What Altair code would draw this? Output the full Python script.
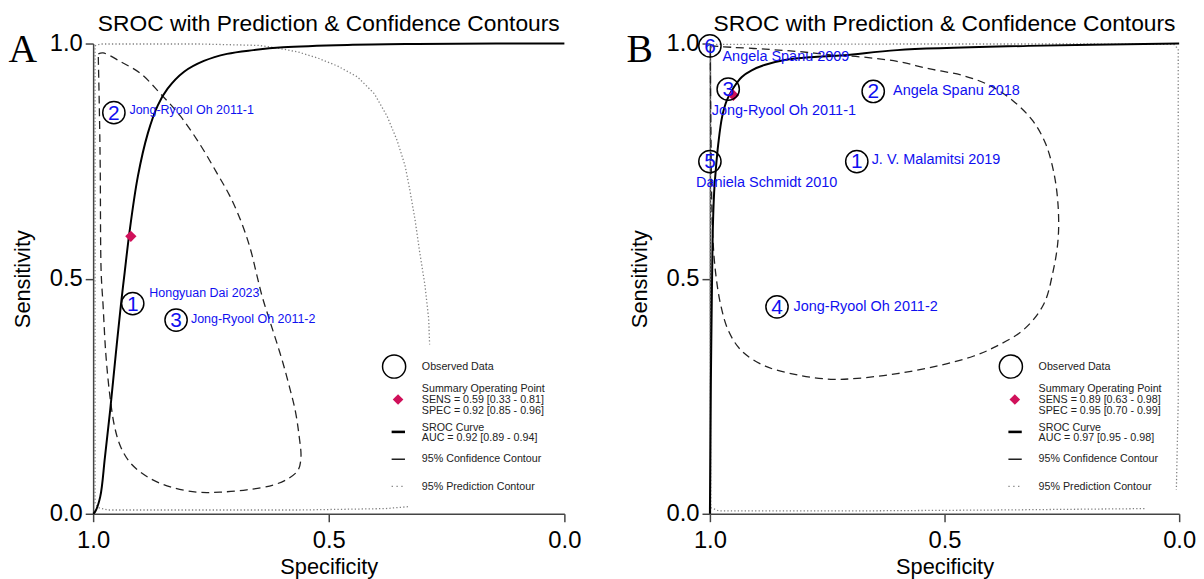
import altair as alt
import pandas as pd

FONT = "Liberation Sans"
TITLE = "SROC with Prediction & Confidence Contours"

# ---------------- Panel A data ----------------
a_ids = [1, 2, 3]
a_names = ["Hongyuan Dai 2023", "Jong-Ryool Oh 2011-1", "Jong-Ryool Oh 2011-2"]
a_spec = [0.916, 0.956, 0.824]
a_sens = [0.447, 0.853, 0.412]
a_sum_spec = [0.92]
a_sum_sens = [0.59]
a_sroc_spec = [1.0, 0.996, 0.985, 0.975, 0.964, 0.952, 0.941, 0.933, 0.923, 0.905, 0.884,
               0.863, 0.842, 0.807, 0.765, 0.716, 0.660, 0.597, 0.460, 0.313, 0.145, 0.0]
a_sroc_sens = [0.0, 0.004, 0.036, 0.120, 0.219, 0.339, 0.445, 0.514, 0.598, 0.718, 0.809,
               0.868, 0.904, 0.940, 0.963, 0.978, 0.986, 0.992, 0.997, 0.999, 1.0, 1.0]
a_conf_spec = [0.989, 0.979, 0.941, 0.899, 0.857, 0.815, 0.773, 0.737, 0.710, 0.685, 0.666,
               0.653, 0.641, 0.626, 0.611, 0.597, 0.584, 0.571, 0.563, 0.559, 0.565, 0.584,
               0.618, 0.674, 0.731, 0.779, 0.836, 0.884, 0.920, 0.941, 0.954, 0.964, 0.973,
               0.979, 0.983, 0.985, 0.987, 0.989, 0.989]
a_conf_sens = [0.978, 0.980, 0.961, 0.936, 0.893, 0.846, 0.785, 0.724, 0.676, 0.619, 0.562,
               0.509, 0.461, 0.413, 0.366, 0.320, 0.272, 0.219, 0.166, 0.120, 0.093, 0.076,
               0.061, 0.051, 0.046, 0.046, 0.057, 0.078, 0.107, 0.141, 0.183, 0.247, 0.339,
               0.445, 0.514, 0.740, 0.872, 0.971, 0.978]
a_pred_spec = [0.332, 0.380, 0.565, 0.775, 0.968, 0.989, 0.996, 0.996, 0.996, 0.996, 0.985,
               0.775, 0.649, 0.607, 0.565, 0.523, 0.481, 0.439, 0.403, 0.376, 0.355, 0.338,
               0.328, 0.317, 0.307, 0.296, 0.288, 0.286]
a_pred_sens = [0.015, 0.011, 0.008, 0.008, 0.008, 0.013, 0.023, 0.451, 0.872, 0.995, 0.999,
               0.999, 0.996, 0.990, 0.982, 0.969, 0.952, 0.929, 0.893, 0.845, 0.794, 0.740,
               0.689, 0.626, 0.556, 0.487, 0.415, 0.360]
a_legend = ["Observed Data", "Summary Operating Point", "SENS = 0.59 [0.33 - 0.81]",
            "SPEC = 0.92 [0.85 - 0.96]", "SROC Curve", "AUC = 0.92 [0.89 - 0.94]",
            "95% Confidence Contour", "95% Prediction Contour"]

# ---------------- Panel B data ----------------
b_ids = [1, 2, 3, 4, 5, 6]
b_names = ["J. V. Malamitsi 2019", "Angela Spanu 2018", "Jong-Ryool Oh 2011-1",
           "Jong-Ryool Oh 2011-2", "Daniela Schmidt 2010", "Angela Spanu 2009"]
b_spec = [0.687, 0.652, 0.961, 0.857, 1.0, 1.0]
b_sens = [0.749, 0.898, 0.903, 0.440, 0.749, 0.995]
b_sum_spec = [0.95]
b_sum_sens = [0.89]
b_sroc_spec = [1.0, 0.999, 0.998, 0.996, 0.994, 0.991, 0.988, 0.982, 0.974, 0.964, 0.949,
               0.932, 0.911, 0.882, 0.840, 0.784, 0.714, 0.601, 0.321, 0.0]
b_sroc_sens = [0.0, 0.135, 0.276, 0.451, 0.598, 0.683, 0.725, 0.788, 0.844, 0.879, 0.907,
               0.929, 0.943, 0.955, 0.965, 0.971, 0.975, 0.986, 0.995, 1.0]
b_conf_spec = [0.999, 0.953, 0.882, 0.812, 0.742, 0.672, 0.601, 0.531, 0.461, 0.404, 0.355,
               0.313, 0.285, 0.267, 0.258, 0.258, 0.269, 0.289, 0.331, 0.390, 0.439, 0.517,
               0.601, 0.686, 0.742, 0.812, 0.882, 0.932, 0.960, 0.977, 0.988, 0.994, 0.996,
               0.998, 0.999, 0.999]
b_conf_sens = [0.995, 0.992, 0.988, 0.983, 0.976, 0.971, 0.962, 0.946, 0.932, 0.911, 0.879,
               0.837, 0.788, 0.725, 0.655, 0.584, 0.514, 0.445, 0.392, 0.356, 0.335, 0.314,
               0.298, 0.288, 0.286, 0.295, 0.314, 0.346, 0.388, 0.444, 0.514, 0.591, 0.662,
               0.830, 0.957, 0.995]
b_pred_spec = [0.074, 0.390, 0.707, 0.981, 0.998, 0.999, 0.999, 0.999, 0.992, 0.601, 0.179,
               0.011, 0.002, 0.002, 0.002, 0.006]
b_pred_sens = [0.011, 0.008, 0.006, 0.006, 0.013, 0.240, 0.662, 0.988, 0.998, 0.999, 0.999,
               0.998, 0.988, 0.662, 0.240, 0.051]
b_legend = ["Observed Data", "Summary Operating Point", "SENS = 0.89 [0.63 - 0.98]",
            "SPEC = 0.95 [0.70 - 0.99]", "SROC Curve", "AUC = 0.97 [0.95 - 0.98]",
            "95% Confidence Contour", "95% Prediction Contour"]

# ---------------- layout (pixels) ----------------
H = 475
A_W, B_W = 476, 474
a_lab_dx = [16.7, 15.7, 15.0]
a_lab_dy = [-10.7, -2.6, -0.6]
b_lab_dx = [15.0, 20.0, -16.6, 16.7, -14.0, 12.7]
b_lab_dy = [-2.0, 0.0, 22.3, 0.0, 21.7, 11.6]
leg_text_x = 332.0
leg_text_y = [326.6, 348.9, 359.9, 370.9, 387.9, 398.9, 419.6, 447.6]

BLUE = "#1010F0"
RED = "#D0105A"


def panel(letter, w, ids, names, spec, sens, ldx, ldy, lab_size, sum_spec, sum_sens,
          sroc_sp, sroc_se, conf_sp, conf_se, pred_sp, pred_se, legend):
    def sx(px):
        return 1 - px / w

    def sy(py):
        return 1 - py / H

    xscale = alt.Scale(domain=[0, 1], reverse=True, nice=False, zero=False)
    yscale = alt.Scale(domain=[0, 1], nice=False, zero=False)
    xaxis = alt.Axis(values=[0, 0.5, 1], format=".1f", title="Specificity", grid=False,
                     labelFlush=False)
    yaxis = alt.Axis(values=[0, 0.5, 1], format=".1f", title="Sensitivity", grid=False,
                     labelFlush=False)
    X = alt.X("spec:Q", scale=xscale, axis=xaxis)
    Y = alt.Y("sens:Q", scale=yscale, axis=yaxis)

    def line_df(s, e):
        return pd.DataFrame({"spec": s, "sens": e, "i": list(range(len(s)))})

    pred = alt.Chart(line_df(pred_sp, pred_se)).mark_line(
        color="#808080", strokeDash=[1.3, 2.2], strokeWidth=1.3
    ).encode(x=X, y=Y, order="i:Q")
    conf = alt.Chart(line_df(conf_sp, conf_se)).mark_line(
        color="#222222", strokeDash=[8, 5], strokeWidth=1.3, interpolate="catmull-rom"
    ).encode(x=X, y=Y, order="i:Q")
    sroc = alt.Chart(line_df(sroc_sp, sroc_se)).mark_line(
        color="black", strokeWidth=2, interpolate="catmull-rom"
    ).encode(x=X, y=Y, order="i:Q")

    studies = pd.DataFrame({"id": [str(i) for i in ids], "name": names,
                            "spec": spec, "sens": sens})
    labels = pd.DataFrame({"name": names,
                           "spec": [s - dx / w for s, dx in zip(spec, ldx)],
                           "sens": [e - dy / H for e, dy in zip(sens, ldy)]})
    circles = alt.Chart(studies).mark_point(
        shape="circle", filled=False, color="black", size=506, strokeWidth=1.5, opacity=1
    ).encode(x=X, y=Y)
    nums = alt.Chart(studies).mark_text(
        font=FONT, fontSize=21, color=BLUE, align="center", baseline="middle", dy=1
    ).encode(x=X, y=Y, text="id:N")
    labs = alt.Chart(labels).mark_text(
        font=FONT, fontSize=lab_size, color=BLUE, align="left", baseline="middle"
    ).encode(x=X, y=Y, text="name:N")
    summ = alt.Chart(pd.DataFrame({"spec": sum_spec, "sens": sum_sens})).mark_point(
        shape="diamond", filled=True, color=RED, size=130, opacity=1
    ).encode(x=X, y=Y)

    # legend
    leg_c = alt.Chart(pd.DataFrame({"spec": [sx(304)], "sens": [sy(326.3)]})).mark_point(
        shape="circle", filled=False, color="black", size=545, strokeWidth=1.5, opacity=1
    ).encode(x=X, y=Y)
    leg_d = alt.Chart(pd.DataFrame({"spec": [sx(308)], "sens": [sy(359.6)]})).mark_point(
        shape="diamond", filled=True, color=RED, size=115, opacity=1
    ).encode(x=X, y=Y)

    def leg_rule(x1, x2, y, **kw):
        d = pd.DataFrame({"spec": [sx(x1)], "spec2": [sx(x2)], "sens": [sy(y)]})
        return alt.Chart(d).mark_rule(**kw).encode(x=X, x2="spec2", y=Y)

    leg_s = leg_rule(301.5, 315, 392.3, color="black", strokeWidth=2.6)
    leg_k = leg_rule(301.5, 315, 419.9, color="#222222", strokeWidth=1.5)
    leg_p = leg_rule(301.5, 313, 447.3, color="#808080", strokeWidth=1.3,
                     strokeDash=[1.3, 3.6])
    leg_t = alt.Chart(pd.DataFrame({"spec": [sx(leg_text_x)] * len(legend),
                                    "sens": [sy(v) for v in leg_text_y],
                                    "t": legend})).mark_text(
        font=FONT, fontSize=10.8, color="#222222", align="left", baseline="middle"
    ).encode(x=X, y=Y, text="t:N")

    let = alt.Chart(pd.DataFrame({"t": [letter]})).mark_text(
        font="Liberation Serif", fontSize=40, color="black", align="center",
        baseline="alphabetic"
    ).encode(x=alt.value(-71), y=alt.value(19), text="t:N")

    return alt.layer(pred, conf, sroc, summ, circles, nums, labs,
                     leg_c, leg_d, leg_s, leg_k, leg_p, leg_t, let).properties(
        width=w, height=H,
        title=alt.TitleParams(TITLE, font=FONT, fontSize=23, fontWeight="normal",
                              color="black", anchor="middle", offset=-5),
    )


pa = panel("A", A_W, a_ids, a_names, a_spec, a_sens, a_lab_dx, a_lab_dy, 12.6,
           a_sum_spec, a_sum_sens, a_sroc_spec, a_sroc_sens, a_conf_spec, a_conf_sens,
           a_pred_spec, a_pred_sens, a_legend)
pb = panel("B", B_W, b_ids, b_names, b_spec, b_sens, b_lab_dx, b_lab_dy, 14.6,
           b_sum_spec, b_sum_sens, b_sroc_spec, b_sroc_sens, b_conf_spec, b_conf_sens,
           b_pred_spec, b_pred_sens, b_legend)

chart = alt.hconcat(pa, pb, spacing=45).properties(
    padding={"top": 2, "left": 0, "right": 0, "bottom": 0}
).configure_view(
    stroke=None
).configure_axis(
    domainColor="#444444", domainWidth=1.5, tickColor="#444444", tickWidth=1.5,
    tickSize=8, labelFont=FONT, labelFontSize=24, labelColor="black",
    titleFont=FONT, titleFontSize=22, titleFontWeight="normal", titleColor="black",
    grid=False
).configure_axisY(labelPadding=3, titlePadding=15).configure_axisX(
    labelPadding=7, titlePadding=4
)

chart.save("out.html", embed_options={"renderer": "svg", "actions": False})
